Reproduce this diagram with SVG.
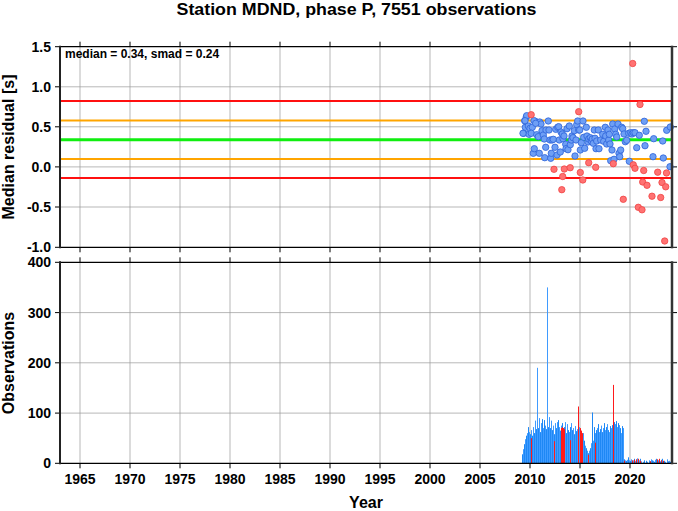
<svg xmlns="http://www.w3.org/2000/svg" width="678" height="511" viewBox="0 0 678 511">
<style>
text{font-family:"Liberation Sans",Arial,Helvetica,sans-serif;font-weight:bold;fill:#000}
.tk{font-size:14px}
.grid{stroke:#9a9a9a;stroke-width:0.7;fill:none}
.tick{stroke:#000;stroke-width:1;fill:none}
.b{fill:#6e9ff5;stroke:#2d63d9;stroke-width:0.8}
.r{fill:#ff7272;stroke:#f04444;stroke-width:0.8}
</style>
<rect x="0" y="0" width="678" height="511" fill="#fff"/>
<text x="356.5" y="15" font-size="16" text-anchor="middle" textLength="360" lengthAdjust="spacingAndGlyphs">Station MDND, phase P, 7551 observations</text>

<g id="top-panel">
<path class="grid" d="M80 46.7V247.3M130 46.7V247.3M180 46.7V247.3M230 46.7V247.3M280 46.7V247.3M330 46.7V247.3M380 46.7V247.3M430 46.7V247.3M480 46.7V247.3M530 46.7V247.3M580 46.7V247.3M630 46.7V247.3M60 86.8H672M60 126.8H672M60 166.9H672M60 207H672"/>
<path class="tick" d="M80 41.7V46.7M130 41.7V46.7M180 41.7V46.7M230 41.7V46.7M280 41.7V46.7M330 41.7V46.7M380 41.7V46.7M430 41.7V46.7M480 41.7V46.7M530 41.7V46.7M580 41.7V46.7M630 41.7V46.7M80 247.3V252.3M130 247.3V252.3M180 247.3V252.3M230 247.3V252.3M280 247.3V252.3M330 247.3V252.3M380 247.3V252.3M430 247.3V252.3M480 247.3V252.3M530 247.3V252.3M580 247.3V252.3M630 247.3V252.3M55 46.7H60M55 86.8H60M55 126.8H60M55 166.9H60M55 207H60M55 247.3H60M672 46.7H677M672 86.8H677M672 126.8H677M672 166.9H677M672 207H677M672 247.3H677"/>
<g id="ref-lines" fill="none">
<path d="M60 101H672" stroke="#ff1010" stroke-width="2"/>
<path d="M60 120.4H672" stroke="#ffa500" stroke-width="2"/>
<path d="M60 139.8H672" stroke="#10ee10" stroke-width="3"/>
<path d="M60 158.9H672" stroke="#ffa500" stroke-width="2"/>
<path d="M60 178.1H672" stroke="#ff1010" stroke-width="2"/>
</g>
<g id="points-blue" class="b">
<circle cx="523.7" cy="133.3" r="3.2"/><circle cx="525.3" cy="127.3" r="3.2"/><circle cx="524.7" cy="120.7" r="3.2"/><circle cx="526.3" cy="117" r="3.2"/><circle cx="528.3" cy="126" r="3.2"/><circle cx="529" cy="134.3" r="3.2"/><circle cx="530" cy="128.3" r="3.2"/><circle cx="532.3" cy="127.3" r="3.2"/><circle cx="531.3" cy="133.3" r="3.2"/><circle cx="533.3" cy="153.3" r="3.2"/><circle cx="534.3" cy="148.7" r="3.2"/><circle cx="535.3" cy="121.3" r="3.2"/><circle cx="536.7" cy="134.7" r="3.2"/><circle cx="538.3" cy="136.7" r="3.2"/><circle cx="539.3" cy="153.3" r="3.2"/><circle cx="539.7" cy="122" r="3.2"/><circle cx="541" cy="124" r="3.2"/><circle cx="542" cy="130.7" r="3.2"/><circle cx="543.3" cy="135" r="3.2"/><circle cx="544.3" cy="139" r="3.2"/><circle cx="544.7" cy="157.7" r="3.2"/><circle cx="545.7" cy="147.3" r="3.2"/><circle cx="546" cy="130" r="3.2"/><circle cx="548.3" cy="121" r="3.2"/><circle cx="549" cy="130" r="3.2"/><circle cx="550" cy="140" r="3.2"/><circle cx="550.7" cy="158.3" r="3.2"/><circle cx="551.3" cy="153.3" r="3.2"/><circle cx="552" cy="140" r="3.2"/><circle cx="553.3" cy="139.3" r="3.2"/><circle cx="555" cy="147.3" r="3.2"/><circle cx="555.7" cy="129.3" r="3.2"/><circle cx="557" cy="155" r="3.2"/><circle cx="557.7" cy="127.3" r="3.2"/><circle cx="558.7" cy="126.7" r="3.2"/><circle cx="559.3" cy="140" r="3.2"/><circle cx="560.3" cy="152" r="3.2"/><circle cx="561" cy="132" r="3.2"/><circle cx="562.3" cy="134" r="3.2"/><circle cx="563" cy="138.7" r="3.2"/><circle cx="564" cy="136" r="3.2"/><circle cx="565.7" cy="144.3" r="3.2"/><circle cx="566" cy="148.7" r="3.2"/><circle cx="567" cy="128.7" r="3.2"/><circle cx="568" cy="149.7" r="3.2"/><circle cx="569.3" cy="126" r="3.2"/><circle cx="570.3" cy="144.7" r="3.2"/><circle cx="571.3" cy="140" r="3.2"/><circle cx="572" cy="136" r="3.2"/><circle cx="573" cy="137.7" r="3.2"/><circle cx="574.3" cy="130.7" r="3.2"/><circle cx="575" cy="156" r="3.2"/><circle cx="576" cy="140" r="3.2"/><circle cx="576.7" cy="124.7" r="3.2"/><circle cx="577.7" cy="121" r="3.2"/><circle cx="578.7" cy="130" r="3.2"/><circle cx="579.7" cy="130" r="3.2"/><circle cx="580.3" cy="150" r="3.2"/><circle cx="581.3" cy="142.7" r="3.2"/><circle cx="583" cy="121" r="3.2"/><circle cx="583.7" cy="137.3" r="3.2"/><circle cx="584.7" cy="148.3" r="3.2"/><circle cx="586.3" cy="127.3" r="3.2"/><circle cx="587" cy="136" r="3.2"/><circle cx="588" cy="142" r="3.2"/><circle cx="588.7" cy="139" r="3.2"/><circle cx="590.3" cy="137.7" r="3.2"/><circle cx="591.3" cy="141" r="3.2"/><circle cx="592.3" cy="139" r="3.2"/><circle cx="593.3" cy="143.3" r="3.2"/><circle cx="594.3" cy="130" r="3.2"/><circle cx="595" cy="138.3" r="3.2"/><circle cx="596" cy="148.7" r="3.2"/><circle cx="596.7" cy="141" r="3.2"/><circle cx="598.3" cy="130" r="3.2"/><circle cx="599" cy="148.7" r="3.2"/><circle cx="600.7" cy="140" r="3.2"/><circle cx="602.7" cy="134.3" r="3.2"/><circle cx="603.7" cy="141.3" r="3.2"/><circle cx="605.3" cy="127.3" r="3.2"/><circle cx="605.7" cy="136" r="3.2"/><circle cx="606.7" cy="144" r="3.2"/><circle cx="608" cy="130" r="3.2"/><circle cx="608.7" cy="140" r="3.2"/><circle cx="609.3" cy="134.3" r="3.2"/><circle cx="610" cy="144" r="3.2"/><circle cx="610.7" cy="160.7" r="3.2"/><circle cx="612" cy="150" r="3.2"/><circle cx="612.7" cy="124" r="3.2"/><circle cx="614" cy="159.3" r="3.2"/><circle cx="614.7" cy="129" r="3.2"/><circle cx="615.7" cy="134.3" r="3.2"/><circle cx="616.7" cy="137" r="3.2"/><circle cx="618" cy="124" r="3.2"/><circle cx="619" cy="153.3" r="3.2"/><circle cx="619.7" cy="156.7" r="3.2"/><circle cx="620.7" cy="150" r="3.2"/><circle cx="621.7" cy="127.3" r="3.2"/><circle cx="622.7" cy="128.7" r="3.2"/><circle cx="624" cy="134" r="3.2"/><circle cx="625.3" cy="141.7" r="3.2"/><circle cx="626.7" cy="140.3" r="3.2"/><circle cx="628.7" cy="133.3" r="3.2"/><circle cx="629.3" cy="161.3" r="3.2"/><circle cx="630.7" cy="132.7" r="3.2"/><circle cx="632" cy="134" r="3.2"/><circle cx="633.3" cy="132.7" r="3.2"/><circle cx="635" cy="132.7" r="3.2"/><circle cx="636.7" cy="147.7" r="3.2"/><circle cx="639.3" cy="135.3" r="3.2"/><circle cx="645" cy="145.7" r="3.2"/><circle cx="646" cy="131.3" r="3.2"/><circle cx="653" cy="156.7" r="3.2"/><circle cx="653.7" cy="138.7" r="3.2"/><circle cx="662.7" cy="141" r="3.2"/><circle cx="663.3" cy="158" r="3.2"/><circle cx="666.7" cy="130.3" r="3.2"/><circle cx="670.3" cy="127" r="3.2"/><circle cx="670" cy="166.7" r="3.2"/><circle cx="644.3" cy="121.3" r="3.2"/><circle cx="526.7" cy="115.7" r="3.2"/><circle cx="525" cy="120.7" r="3.2"/><circle cx="523" cy="133.3" r="3.2"/><circle cx="534" cy="120.7" r="3.2"/><circle cx="535.7" cy="123.3" r="3.2"/>
</g>
<g id="points-red" class="r">
<circle cx="632.7" cy="63.5" r="3.2"/><circle cx="640" cy="104.5" r="3.2"/><circle cx="531.2" cy="114.7" r="3.2"/><circle cx="578.7" cy="111.7" r="3.2"/><circle cx="554" cy="169.3" r="3.2"/><circle cx="564.3" cy="169" r="3.2"/><circle cx="570.2" cy="167.7" r="3.2"/><circle cx="562.7" cy="176.5" r="3.2"/><circle cx="561.8" cy="189.7" r="3.2"/><circle cx="580.3" cy="172.5" r="3.2"/><circle cx="582.8" cy="180" r="3.2"/><circle cx="588.7" cy="162.7" r="3.2"/><circle cx="595.7" cy="167.3" r="3.2"/><circle cx="613.3" cy="163.7" r="3.2"/><circle cx="623.3" cy="199.3" r="3.2"/><circle cx="633.3" cy="164.8" r="3.2"/><circle cx="635" cy="168.3" r="3.2"/><circle cx="643.7" cy="170.5" r="3.2"/><circle cx="642.7" cy="182" r="3.2"/><circle cx="647" cy="185.3" r="3.2"/><circle cx="638.3" cy="207.3" r="3.2"/><circle cx="642" cy="209.8" r="3.2"/><circle cx="652" cy="196.2" r="3.2"/><circle cx="657.7" cy="172.2" r="3.2"/><circle cx="660.7" cy="197.5" r="3.2"/><circle cx="662" cy="182.5" r="3.2"/><circle cx="665.7" cy="186.8" r="3.2"/><circle cx="666.5" cy="173" r="3.2"/><circle cx="664.7" cy="241" r="3.2"/>
</g>
<path d="M60 46.7H672M60 247.3H672" stroke="#000" stroke-width="1.2" fill="none"/>
<path d="M60 45.7V248.3" stroke="#222" stroke-width="2" fill="none"/>
<path d="M672 45.7V248.3" stroke="#333" stroke-width="2.5" fill="none"/>
<text x="65" y="58" font-size="12">median = 0.34, smad = 0.24</text>
<g class="tk" text-anchor="end">
<text x="51" y="51.7">1.5</text><text x="51" y="91.8">1.0</text><text x="51" y="131.8">0.5</text><text x="51" y="171.9">0.0</text><text x="51" y="212">-0.5</text><text x="51" y="252.3">-1.0</text>
</g>
<text transform="translate(13.5,147) rotate(-90)" font-size="16" text-anchor="middle">Median residual [s]</text>
</g>

<g id="bottom-panel">
<path class="grid" d="M80 262.3V463.3M130 262.3V463.3M180 262.3V463.3M230 262.3V463.3M280 262.3V463.3M330 262.3V463.3M380 262.3V463.3M430 262.3V463.3M480 262.3V463.3M530 262.3V463.3M580 262.3V463.3M630 262.3V463.3M60 312.6H672M60 362.8H672M60 413.1H672"/>
<path class="tick" d="M80 257.3V262.3M130 257.3V262.3M180 257.3V262.3M230 257.3V262.3M280 257.3V262.3M330 257.3V262.3M380 257.3V262.3M430 257.3V262.3M480 257.3V262.3M530 257.3V262.3M580 257.3V262.3M630 257.3V262.3M80 463.3V468.3M130 463.3V468.3M180 463.3V468.3M230 463.3V468.3M280 463.3V468.3M330 463.3V468.3M380 463.3V468.3M430 463.3V468.3M480 463.3V468.3M530 463.3V468.3M580 463.3V468.3M630 463.3V468.3M55 262.3H60M55 312.6H60M55 362.8H60M55 413.1H60M55 463.3H60M672 262.3H677M672 312.6H677M672 362.8H677M672 413.1H677M672 463.3H677"/>
<g id="bars" fill="none" stroke-width="1">
<path stroke="#1e88f5" d="M522.5 463.3v-9M524.5 463.3v-19.1M526.5 463.3v-27.6M528.5 463.3v-36.2M530.5 463.3v-29.1M532.5 463.3v-27.6M534.5 463.3v-30.2M536.5 463.3v-34.2M538.5 463.3v-35.2M540.5 463.3v-31.2M542.5 463.3v-44.2M544.5 463.3v-43.2M546.5 463.3v-34.2M548.5 463.3v-36.2M550.5 463.3v-35.2M552.5 463.3v-33.2M554.5 463.3v-29.1M556.5 463.3v-35.2M558.5 463.3v-43.2M560.5 463.3v-32.7M562.5 463.3v-40.2M564.5 463.3v-36.2M566.5 463.3v-30.2M568.5 463.3v-33.2M570.5 463.3v-36.2M572.5 463.3v-33.2M574.5 463.3v-29.1M576.5 463.3v-32.2M578.5 463.3v-27.6M580.5 463.3v-31.2M582.5 463.3v-27.6M584.5 463.3v-22.6M586.5 463.3v-15.1M588.5 463.3v-10.1M590.5 463.3v-15.1M592.5 463.3v-50.8M594.5 463.3v-36.2M596.5 463.3v-33.2M598.5 463.3v-39.2M600.5 463.3v-34.2M602.5 463.3v-31.2M604.5 463.3v-40.2M606.5 463.3v-36.2M608.5 463.3v-33.2M610.5 463.3v-37.2M612.5 463.3v-38.2M614.5 463.3v-41.2M616.5 463.3v-42.2M618.5 463.3v-40.2M620.5 463.3v-35.2M622.5 463.3v-37.2M624.5 463.3v-4M626.5 463.3v-2.5M628.5 463.3v-6M630.5 463.3v-2.5M632.5 463.3v-2M634.5 463.3v-4.5M636.5 463.3v-3.5M638.5 463.3v-4M640.5 463.3v-4.5M644.5 463.3v-3M646.5 463.3v-2.5M650.5 463.3v-2M652.5 463.3v-3M654.5 463.3v-1.5M656.5 463.3v-4.5M658.5 463.3v-3M660.5 463.3v-2M662.5 463.3v-4.5M664.5 463.3v-2.5M668.5 463.3v-2M670.5 463.3v-1.5"/>
<path stroke="#3f9bff" d="M523.5 463.3v-14.1M525.5 463.3v-24.1M527.5 463.3v-30.2M529.5 463.3v-31.2M531.5 463.3v-33.2M533.5 463.3v-36.2M535.5 463.3v-42.7M537.5 463.3v-95.5M539.5 463.3v-45.2M541.5 463.3v-40.2M543.5 463.3v-35.2M545.5 463.3v-37.7M547.5 463.3v-175.9M549.5 463.3v-46.2M551.5 463.3v-42.7M553.5 463.3v-37.7M555.5 463.3v-40.2M557.5 463.3v-41.2M559.5 463.3v-36.2M561.5 463.3v-37.7M563.5 463.3v-35.2M565.5 463.3v-41.2M567.5 463.3v-39.2M569.5 463.3v-31.2M571.5 463.3v-40.2M573.5 463.3v-35.2M575.5 463.3v-37.2M577.5 463.3v-34.2M579.5 463.3v-36.2M581.5 463.3v-29.1M583.5 463.3v-30.2M585.5 463.3v-17.6M587.5 463.3v-12.6M589.5 463.3v-12.6M591.5 463.3v-20.1M593.5 463.3v-22.6M595.5 463.3v-30.2M597.5 463.3v-35.2M599.5 463.3v-31.2M601.5 463.3v-37.7M603.5 463.3v-35.2M605.5 463.3v-33.2M607.5 463.3v-39.2M609.5 463.3v-31.2M611.5 463.3v-35.2M613.5 463.3v-33.2M615.5 463.3v-39.2M617.5 463.3v-36.2M619.5 463.3v-38.2M621.5 463.3v-30.2M623.5 463.3v-35.2M625.5 463.3v-3M627.5 463.3v-3.5M629.5 463.3v-3M631.5 463.3v-4M633.5 463.3v-3M635.5 463.3v-2.5M637.5 463.3v-5M639.5 463.3v-3M641.5 463.3v-2M643.5 463.3v-1.5M647.5 463.3v-1.5M649.5 463.3v-3M651.5 463.3v-4M653.5 463.3v-2.5M655.5 463.3v-3.5M657.5 463.3v-2.5M659.5 463.3v-4M661.5 463.3v-3.5M665.5 463.3v-1.5M667.5 463.3v-4M669.5 463.3v-2.5M671.5 463.3v-3.5"/>
<path stroke="#ff1a1a" d="M531.5 463.3v-25.1M554.5 463.3v-22.1M561.5 463.3v-35.2M562.5 463.3v-36.2M563.5 463.3v-35.2M564.5 463.3v-34.2M570.5 463.3v-23.1M578.5 463.3v-56.8M580.5 463.3v-35.2M581.5 463.3v-32.7M582.5 463.3v-30.2M588.5 463.3v-8.5M595.5 463.3v-20.6M613.5 463.3v-78.4M624.5 463.3v-2.5M632.5 463.3v-3M634.5 463.3v-3.5M636.5 463.3v-4M638.5 463.3v-4.5M640.5 463.3v-2.5M650.5 463.3v-2M657.5 463.3v-4M659.5 463.3v-4.5M661.5 463.3v-3M663.5 463.3v-2.5"/>
</g>
<path d="M60 262.3H672M60 463.3H672" stroke="#000" stroke-width="1.2" fill="none"/>
<path d="M60 261.3V464.3" stroke="#222" stroke-width="2" fill="none"/>
<path d="M672 261.3V464.3" stroke="#333" stroke-width="2.5" fill="none"/>
<g class="tk" text-anchor="end">
<text x="51" y="267.3">400</text><text x="51" y="317.6">300</text><text x="51" y="367.8">200</text><text x="51" y="418.1">100</text><text x="51" y="468.3">0</text>
</g>
<g class="tk" text-anchor="middle">
<text x="80" y="484">1965</text><text x="130" y="484">1970</text><text x="180" y="484">1975</text><text x="230" y="484">1980</text><text x="280" y="484">1985</text><text x="330" y="484">1990</text><text x="380" y="484">1995</text><text x="430" y="484">2000</text><text x="480" y="484">2005</text><text x="530" y="484">2010</text><text x="580" y="484">2015</text><text x="630" y="484">2020</text>
</g>
<text transform="translate(14,363) rotate(-90)" font-size="16" text-anchor="middle">Observations</text>
<text x="366" y="508" font-size="16" text-anchor="middle">Year</text>
</g>
</svg>
